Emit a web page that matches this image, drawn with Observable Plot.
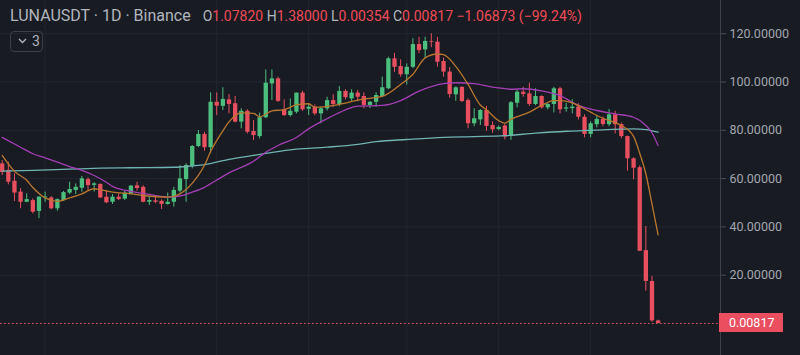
<!DOCTYPE html>
<html><head><meta charset="utf-8">
<script src="https://cdn.jsdelivr.net/npm/d3@7"></script>
<script src="https://cdn.jsdelivr.net/npm/@observablehq/plot@0.6"></script>
<style>
body{margin:0;background:#181b22;}
#wrap{position:relative;width:800px;height:355px;overflow:hidden;font-family:Roboto,"Noto Sans",sans-serif;}
#title{position:absolute;left:10px;top:8px;font-size:16px;line-height:15px;color:#b2b5be;white-space:pre;}
#ohlc{font-size:14px;margin-left:12px;}
#title .r{color:#f04b5a}
#ind{position:absolute;left:10px;top:31px;width:33px;height:21px;box-sizing:border-box;border:1px solid #3a3e48;border-radius:4px;color:#b2b5be;font-size:14px;line-height:19px;}
#ind svg{position:absolute;left:7px;top:6px}
#ind span{position:absolute;left:21px;top:0}
#last{position:absolute;left:719px;width:64px;height:19px;box-sizing:border-box;background:#e94f5f;color:#fff;font-size:12.5px;line-height:19px;padding-left:10px;}
</style></head>
<body>
<div id="wrap">
  <div id="chart"></div>
  <div id="title">LUNAUSDT · 1D · Binance<span id="ohlc">O<span class="r">1.07820</span> H<span class="r">1.38000</span> L<span class="r">0.00354</span> C<span class="r">0.00817</span> <span class="r">−1.06873 (−99.24%)</span></span></div>
  <div id="ind"><svg width="9" height="6" viewBox="0 0 9 6"><path d="M1 1 L4.5 4.5 L8 1" fill="none" stroke="#b2b5be" stroke-width="1.3"/></svg><span>3</span></div>
  <div id="last">0.00817</div>
</div>
<script>
// Daily candles (index 0 = first visible day)
const open = [66.1,63.4,58.9,54.4,50.2,50.9,46.4,52.0,52.0,47.5,50.9,54.0,55.1,56.0,59.6,57.2,57.6,52.3,50.2,52.3,
51.5,53.7,57.0,56.4,50.2,50.8,50.6,49.3,50.2,54.8,59.6,65.0,73.3,78.3,72.8,91.6,89.9,92.6,91.0,83.4,
87.9,79.5,77.4,85.2,99.2,101.3,88.6,86.1,87.5,95.4,88.7,89.6,86.8,88.9,92.3,90.7,96.1,93.0,95.4,94.0,
90.3,91.6,94.0,97.2,109.6,106.4,103.0,106.1,115.5,113.3,116.8,116.5,108.5,104.1,94.7,97.8,92.3,82.7,84.3,88.2,
82.0,80.3,81.8,77.4,91.2,95.8,95.1,90.7,94.0,89.3,90.7,97.2,88.8,89.0,89.6,85.4,78.3,82.3,84.5,82.3,
86.4,82.4,77.4,68.2,64.5,30.2,17.4,1.0782];
const high = [67.5,66.8,62.0,55.8,53.7,51.6,52.6,54.4,52.6,51.6,54.7,58.5,57.8,60.9,60.3,58.3,57.8,55.1,53.4,53.7,
54.7,57.1,58.5,57.0,52.3,53.0,51.2,54.0,56.4,65.4,66.1,73.7,79.9,79.2,95.5,95.5,97.6,94.8,94.0,88.9,
88.5,84.0,87.1,105.0,105.0,102.0,92.6,93.0,95.4,96.2,91.0,90.5,89.5,93.7,94.7,98.1,96.8,96.8,96.5,95.5,
92.0,95.5,102.0,110.3,111.9,109.2,107.5,117.9,118.5,118.5,120.0,118.5,109.9,106.0,98.0,98.0,93.0,88.9,88.6,89.9,
83.5,81.8,82.6,91.9,96.5,97.8,99.5,97.2,94.3,91.0,97.8,97.8,91.2,92.6,91.0,86.4,83.5,85.7,85.5,88.6,
87.9,83.0,77.6,68.6,65.3,40.2,19.5,1.38];
const low = [61.3,57.4,50.5,47.5,50.0,45.4,43.4,50.2,47.1,46.5,50.5,53.4,53.4,54.4,54.7,54.4,51.8,49.6,49.3,50.9,
51.0,53.4,54.8,50.0,48.9,49.6,47.2,49.0,48.2,54.0,50.2,64.0,72.8,71.3,70.3,86.1,88.2,86.8,83.0,80.6,
78.5,75.8,76.5,84.8,92.3,91.5,85.7,85.5,86.8,87.8,86.1,86.0,82.7,88.0,89.5,89.8,92.6,92.0,91.8,88.9,
89.0,89.5,93.5,96.8,104.0,102.0,98.8,105.5,111.7,109.6,114.2,106.1,102.0,93.3,92.0,91.5,80.6,81.5,82.0,79.6,
78.8,79.8,76.0,75.8,89.3,93.7,89.9,90.2,88.8,88.5,87.2,86.8,87.5,86.8,84.3,76.9,76.9,81.0,81.5,81.5,
78.5,76.5,63.1,59.5,29.9,13.4,0.5,0.00354];
const close = [62.5,58.5,54.0,50.2,51.3,46.1,52.3,52.4,47.5,51.3,54.2,55.5,56.4,59.9,57.1,57.8,52.0,50.0,52.3,51.3,
54.0,56.9,55.9,50.2,50.9,50.2,49.3,50.2,55.1,59.9,65.4,73.3,78.3,72.8,91.6,90.0,92.8,90.7,83.4,87.9,
79.2,77.8,85.2,99.5,101.3,92.0,86.1,87.9,95.4,88.5,89.6,86.8,88.9,92.3,90.7,96.1,93.5,95.4,93.7,90.3,
91.6,94.4,97.6,109.6,106.1,103.0,106.1,115.5,113.0,116.8,116.5,108.2,104.1,94.8,97.6,91.9,82.7,84.8,88.2,81.6,
80.2,81.2,77.2,91.4,95.8,94.8,90.7,94.0,89.3,90.7,97.2,88.5,89.3,89.6,85.4,78.3,82.7,84.5,82.4,86.4,
82.3,77.4,68.2,64.3,29.9,17.4,1.078,0.00817];

// Moving averages (candle index, value)
const ma7Idx = [0,2,4,5,7,9,11,13,15,16,18,21,23,27,29,30,32,33,34,36,37,39,41,42,44,46,48,50,51,54,56,59,62,65,67,69,71,72,74,76,78,79,81,82,83,86,88,90,91,93,94,96,98,100,101,103,104,105,106,107];
const ma7Val = [69.6,63,59.3,56.3,52,50.6,52,53.7,55.8,55.4,54.4,53.7,53,52.3,53.7,55.5,61.3,65.5,71.2,79.8,83.5,87.2,87,85.6,88,88.6,90.5,91,89.5,90.2,91.3,93,94,99,103.2,110,111.6,111.3,106.5,99,90.5,88.5,84,83,84.5,87.5,90.3,92.3,92.3,91.4,90.2,87.5,85,83.2,82,77.5,70.5,62,49.5,36.7];
const ma25Idx = [0,3,5,7,9,11,13,15,17,18,20,23,27,29,31,33,35,37,40,41,43,45,48,50,53,56,58,62,65,68,72,74,77,80,81,83,85,88,91,94,97,100,103,105,106,107];
const ma25Val = [77.1,73,70.3,68.6,66.8,65,63.4,61.3,58.5,56.8,55.2,53.9,52.4,52.8,54.4,56.4,59.4,62.4,65.8,67.2,70.9,73.7,77,80.6,84.8,88.5,90,90.3,92.3,96.2,99.3,99.7,99.3,97.9,97.6,97,97.2,96.3,94.4,90.3,88.2,86.8,85.4,82,79,73.7];
const ma99Idx = [0,5,11,16,21,28,31,33,37,41,47,53,58,61,66,72,77,82,87,92,98,103,105,107];
const ma99Val = [63.1,63.4,63.9,64.3,64.5,64.7,65.3,65.8,68,69.6,71.9,73,74.2,75.3,76.2,77.1,77.4,77.8,78.8,79.6,80.2,80.6,80.3,79.2];

const yTicks = [20,40,60,80,100,120];
const gridTicks = [0,20,40,60,80,100,120];
const monthMarks = [7,35,50,66,81,96];

const green = "#4cbf7e", red = "#e8505f";
const candles = open.map((o,i)=>({i, open:o, high:high[i], low:low[i], close:close[i], col: close[i]>=o ? green : red}));
const ma = (idx, val) => idx.map((i,k)=>({i, v: val[k]}));

const chart = Plot.plot({
  width: 800, height: 355,
  marginLeft: 0, marginRight: 80, marginTop: 0, marginBottom: 0,
  style: {background: "transparent", color: "#a3a6af", fontFamily: "Roboto, sans-serif", fontSize: "12.5px"},
  x: {type: "linear", domain: [-0.277, 117.18], axis: null},
  y: {domain: [-13.25, 133.75], axis: null},
  marks: [
    Plot.gridY(gridTicks, {stroke: "#23262e", strokeOpacity: 1}),
    Plot.gridX(monthMarks, {stroke: "#23262e", strokeOpacity: 1}),
    Plot.ruleY([close[close.length-1]], {stroke: red, strokeDasharray: "1.5,2.5"}),
    Plot.ruleX(candles, {x: "i", y1: "low", y2: "high", stroke: "col", strokeWidth: 1}),
    Plot.ruleX(candles, {x: "i", y1: "open", y2: "close", stroke: "col", strokeWidth: 4.3}),
    Plot.line(ma(ma99Idx, ma99Val), {x: "i", y: "v", stroke: "#6fb3b3", strokeWidth: 1.3, curve: "monotone-x"}),
    Plot.line(ma(ma25Idx, ma25Val), {x: "i", y: "v", stroke: "#a43fb5", strokeWidth: 1.3, curve: "monotone-x"}),
    Plot.line(ma(ma7Idx, ma7Val), {x: "i", y: "v", stroke: "#b8772f", strokeWidth: 1.3, curve: "monotone-x"}),
    Plot.axisY(yTicks, {anchor: "right", tickFormat: d => d.toFixed(5), tickSize: 5, tickPadding: 4, stroke: "#4a4e58", fill: "#a3a6af"}),
    Plot.frame({anchor: "right", stroke: "#3d414b"})
  ]
});
document.getElementById("chart").appendChild(chart);
const yPos = chart.scale("y").apply(close[close.length-1]);
document.getElementById("last").style.top = (yPos - 9.5) + "px";
</script>
</body></html>
